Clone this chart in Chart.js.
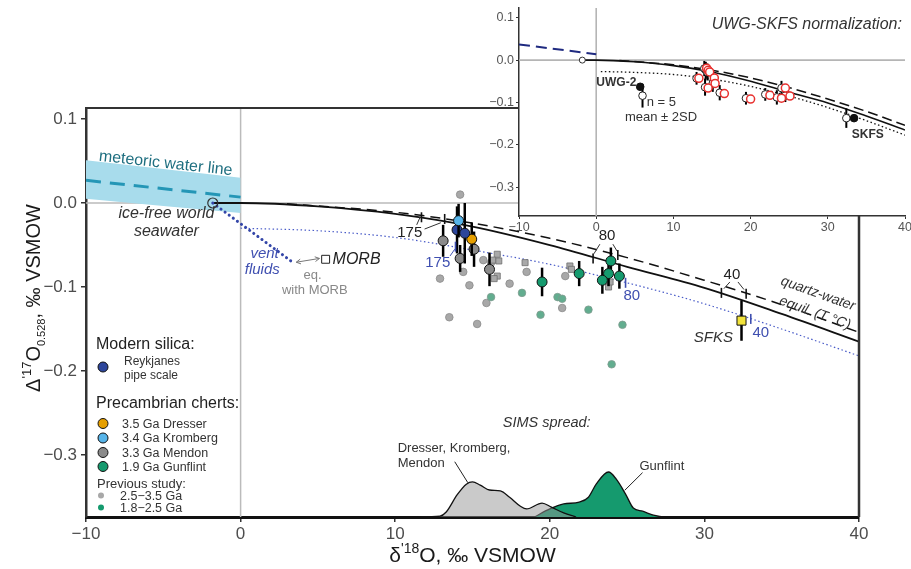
<!DOCTYPE html>
<html>
<head>
<meta charset="utf-8">
<script src="https://cdn.jsdelivr.net/npm/chart.js@4.4.1/dist/chart.umd.min.js"></script>
<style>
  html, body { margin: 0; padding: 0; background: #fff; }
  #wrap { position: relative; width: 911px; height: 569px; }
  #wrap canvas { position: absolute; left: 0; top: 0; }
</style>
</head>
<body>
<div id="wrap">
  <canvas id="main" width="911" height="569"></canvas>
  <canvas id="inset" width="911" height="569"></canvas>
</div>
<script>
const FONT = '"Liberation Sans", Arial, sans-serif';

// ---- main panel: axes ----
const xTicks = [-10, 0, 10, 20, 30, 40];
const yTicks = [0.1, 0, -0.1, -0.2, -0.3];

// meteoric water line and its band
const mwlX = [-10, 0];
const mwlY = [0.027, 0.007];
const mwlHi = [0.051, 0.030];
const mwlLo = [0.005, -0.012];

// ice-free world seawater
const seawaterX = [-1.8];
const seawaterY = [0];

// quartz-water equilibrium curves
const qwSolidX = [-1.8, 0, 5, 10, 15, 20, 25, 30, 35, 40];
const qwSolidY = [0, 0, -0.004, -0.013, -0.028, -0.050, -0.076, -0.101, -0.132, -0.165];
const qwDashX = [3, 10, 15, 20, 25, 30, 35, 40];
const qwDashY = [-0.001, -0.011, -0.024, -0.042, -0.065, -0.092, -0.121, -0.154];

// equilibrium with vent fluids (blue dotted) and vent fluid line
const ventEqX = [0, 5, 10, 15, 20, 25, 30, 35, 40];
const ventEqY = [-0.030, -0.033, -0.041, -0.056, -0.073, -0.095, -0.120, -0.150, -0.182];
const ventX = [-1.8, 3.4];
const ventY = [0, -0.071];
const morbX = [5.5];
const morbY = [-0.067];

// this study
const reykX = [14.0, 14.5];
const reykY = [-0.032, -0.036];
const reykErr = [0.028, 0.036];
const kromX = [14.1];
const kromY = [-0.021];
const kromErr = [0.02];
const dresX = [14.95];
const dresY = [-0.043];
const dresErr = [0.02];
const mendX = [13.1, 15.1, 14.2, 16.1];
const mendY = [-0.045, -0.055, -0.066, -0.079];
const mendErr = [0.019, 0.021, 0.016, 0.02];
const gunX = [19.5, 21.9, 23.95, 23.8, 23.4, 24.5];
const gunY = [-0.094, -0.084, -0.069, -0.084, -0.092, -0.087];
const gunErr = [0.017, 0.015, 0.016, 0.015, 0.016, 0.015];
const sfksX = [32.4];
const sfksY = [-0.140];
const sfksErr = [0.024];

// previous studies
const prevOldX = [14.2, 12.9, 14.4, 14.8, 13.5, 15.3, 15.7, 15.9, 17.4, 18.5, 21.0, 20.8, 16.2];
const prevOldY = [0.010, -0.090, -0.082, -0.098, -0.136, -0.144, -0.068, -0.119, -0.096, -0.082, -0.087, -0.125, -0.071];
const prevYoungX = [16.2, 18.2, 19.4, 20.5, 20.8, 22.5, 24.7, 24.0];
const prevYoungY = [-0.112, -0.107, -0.133, -0.112, -0.114, -0.127, -0.145, -0.192];
const prevSqX = [16.6, 16.7, 16.3, 16.6, 16.4, 18.4, 21.3, 21.4, 23.8, 23.9];
const prevSqY = [-0.061, -0.069, -0.068, -0.087, -0.090, -0.071, -0.075, -0.079, -0.100, -0.094];

// SIMS spread (relative density)
const simsOldX = [11.4, 12.9, 13.3, 14.0, 14.6, 15.0, 15.5, 16.1, 16.8, 17.4, 18.1, 18.5, 19.5, 20.1, 20.9, 21.7];
const simsOldD = [0, 0.02, 0.11, 0.49, 0.73, 0.78, 0.71, 0.60, 0.58, 0.44, 0.24, 0.18, 0.31, 0.22, 0.09, 0];
const simsGunX = [19.0, 20.0, 20.9, 21.9, 22.5, 23.0, 23.8, 24.3, 24.9, 25.4, 26.0, 26.7, 27.3];
const simsGunD = [0, 0.18, 0.29, 0.33, 0.44, 0.73, 1.0, 0.84, 0.51, 0.20, 0.13, 0.04, 0];

// temperature marks along the curves (°C)
const tempLabels = ['175', '80', '40'];
const solidTickX = [11.7, 22.8, 31.1];
const solidTickY = [-0.017, -0.066, -0.107];
const dashTickX = [13.2, 24.4, 32.7];
const dashTickY = [-0.019, -0.062, -0.108];
const blueTickX = [13.9, 24.9, 33.0];
const blueTickY = [-0.052, -0.095, -0.138];

// ---- inset (UWG-SKFS normalization) ----
const inXTicks = [-10, 0, 10, 20, 30, 40];
const inYTicks = [0.1, 0, -0.1, -0.2, -0.3];
const inMwlX = [-10, 0];
const inMwlY = [0.037, 0.014];
const inDotX = [0.6, 5, 10, 15, 20, 25, 30, 35, 40];
const inDotY = [-0.027, -0.029, -0.034, -0.045, -0.062, -0.085, -0.112, -0.143, -0.177];
const inOpenX = [14.0, 14.2, 14.4, 13.0, 15.0, 15.1, 14.1, 16.0, 19.4, 21.9, 23.4, 24.0, 24.5, 6.0, 32.4];
const inOpenY = [-0.020, -0.024, -0.028, -0.043, -0.042, -0.055, -0.064, -0.077, -0.090, -0.081, -0.088, -0.066, -0.084, -0.084, -0.137];
const inOpenErr = [0.018, 0.02, 0.02, 0.015, 0.015, 0.02, 0.02, 0.018, 0.015, 0.015, 0.017, 0.017, 0.015, 0.028, 0.023];
const inRedX = [14.3, 14.5, 14.7, 13.3, 15.3, 15.4, 14.5, 16.6, 20.0, 22.5, 24.0, 24.5, 25.1];
const inRedY = [-0.019, -0.024, -0.028, -0.043, -0.042, -0.055, -0.066, -0.079, -0.092, -0.083, -0.090, -0.066, -0.085];
const inStdX = [5.7, 33.4];
const inStdY = [-0.063, -0.137];

const pts = (xs, ys) => xs.map((x, i) => ({ x: x, y: ys[i] }));
const fmt = (v, d) => (v < 0 ? '\u2212' : '') + Math.abs(v).toFixed(d);

function lineDs(xs, ys, color, width, dash, order, extra) {
    return Object.assign({
        data: pts(xs, ys), borderColor: color, borderWidth: width, borderDash: dash || [],
        pointRadius: 0, fill: false, tension: 0.4, cubicInterpolationMode: 'monotone', order: order
    }, extra || {});
}
function pointDs(xs, ys, fillC, lineC, r, order, extra) {
    return Object.assign({
        data: pts(xs, ys), showLine: false, backgroundColor: fillC, borderColor: lineC,
        pointBackgroundColor: fillC, pointBorderColor: lineC, pointBorderWidth: 1,
        pointRadius: r, order: order
    }, extra || {});
}

// gray zero lines
const zeroLines = {
    id: 'zeroLines',
    beforeDatasetsDraw(chart, args, opts) {
        const { ctx, chartArea: a, scales: { x, y } } = chart;
        ctx.save();
        ctx.strokeStyle = opts.color || '#bbb';
        ctx.lineWidth = opts.width || 1.5;
        ctx.beginPath();
        ctx.moveTo(x.getPixelForValue(0), a.top);
        ctx.lineTo(x.getPixelForValue(0), a.bottom);
        ctx.moveTo(a.left, y.getPixelForValue(0));
        ctx.lineTo(a.right, y.getPixelForValue(0));
        ctx.stroke();
        ctx.restore();
    }
};

// vertical error bars drawn just under their points
const errorBars = {
    id: 'errorBars',
    beforeDatasetDraw(chart, args) {
        const ds = chart.data.datasets[args.index];
        if (!ds.err) return;
        const { ctx } = chart;
        const xs = chart.scales.x, ys = chart.scales.y;
        ctx.save();
        ctx.strokeStyle = '#000';
        ctx.lineWidth = ds.errWidth || 2.5;
        ds.data.forEach((p, i) => {
            const px = xs.getPixelForValue(p.x);
            ctx.beginPath();
            ctx.moveTo(px, ys.getPixelForValue(p.y + ds.err[i]));
            ctx.lineTo(px, ys.getPixelForValue(p.y - ds.err[i]));
            ctx.stroke();
        });
        ctx.restore();
    }
};

function text(ctx, s, px, py, font, color, align, rot) {
    ctx.save();
    ctx.translate(px, py);
    if (rot) ctx.rotate(rot);
    ctx.font = font;
    ctx.fillStyle = color;
    ctx.textAlign = align || 'center';
    ctx.textBaseline = 'middle';
    ctx.fillText(s, 0, 0);
    ctx.restore();
}
function richText(ctx, parts, cx, cy, rot) {
    ctx.save();
    ctx.translate(cx, cy);
    if (rot) ctx.rotate(rot);
    let w = 0;
    parts.forEach(p => { ctx.font = p.size + 'px ' + FONT; p.w = ctx.measureText(p.t).width; w += p.w; });
    let px = -w / 2;
    ctx.fillStyle = '#1a1a1a';
    ctx.textAlign = 'left';
    ctx.textBaseline = 'alphabetic';
    parts.forEach(p => { ctx.font = p.size + 'px ' + FONT; ctx.fillText(p.t, px, p.dy || 0); px += p.w; });
    ctx.restore();
}
function seg(ctx, x1, y1, x2, y2, color, width) {
    ctx.save();
    ctx.strokeStyle = color;
    ctx.lineWidth = width;
    ctx.beginPath();
    ctx.moveTo(x1, y1);
    ctx.lineTo(x2, y2);
    ctx.stroke();
    ctx.restore();
}
function dot(ctx, px, py, r, fillC, lineC) {
    ctx.save();
    ctx.beginPath();
    ctx.arc(px, py, r, 0, Math.PI * 2);
    ctx.fillStyle = fillC;
    ctx.fill();
    if (lineC) { ctx.strokeStyle = lineC; ctx.lineWidth = 1; ctx.stroke(); }
    ctx.restore();
}

const mainNotes = {
    id: 'mainNotes',
    afterDatasetsDraw(chart) {
        const { ctx, chartArea: a, scales: { x, y } } = chart;
        const X = v => x.getPixelForValue(v), Y = v => y.getPixelForValue(v);
        const it = s => 'italic ' + s + 'px ' + FONT;
        const rg = s => s + 'px ' + FONT;

        // meteoric water line label, along the line
        const ang = Math.atan2(Y(mwlY[1]) - Y(mwlY[0]), X(mwlX[1]) - X(mwlX[0]));
        text(ctx, 'meteoric water line', X(-4.85), Y(0.047), rg(16), '#1f6f80', 'center', ang);
        text(ctx, 'ice-free world', X(-4.8), Y(-0.012), it(16), '#333', 'center');
        text(ctx, 'seawater', X(-4.8), Y(-0.034), it(16), '#333', 'center');
        text(ctx, 'vent', X(1.55), Y(-0.060), it(15), '#3f4fb0', 'center');
        text(ctx, 'fluids', X(1.4), Y(-0.080), it(15), '#3f4fb0', 'center');
        text(ctx, 'MORB', X(5.95), Y(-0.067), it(16), '#222', 'left');
        text(ctx, 'eq.', X(4.65), Y(-0.086), rg(13), '#888', 'center');
        text(ctx, 'with MORB', X(4.8), Y(-0.104), rg(13), '#888', 'center');

        // double arrow towards MORB
        const ax1 = X(3.6), ay1 = Y(-0.0705), ax2 = X(5.1), ay2 = Y(-0.066);
        seg(ctx, ax1, ay1, ax2, ay2, '#777', 1);
        const an = Math.atan2(ay2 - ay1, ax2 - ax1);
        [[ax2, ay2, an], [ax1, ay1, an + Math.PI]].forEach(h => {
            seg(ctx, h[0], h[1], h[0] - 5 * Math.cos(h[2] - 0.5), h[1] - 5 * Math.sin(h[2] - 0.5), '#777', 1);
            seg(ctx, h[0], h[1], h[0] - 5 * Math.cos(h[2] + 0.5), h[1] - 5 * Math.sin(h[2] + 0.5), '#777', 1);
        });

        // temperature marks
        for (let i = 0; i < tempLabels.length; i++) {
            seg(ctx, X(solidTickX[i]), Y(solidTickY[i]) - 5, X(solidTickX[i]), Y(solidTickY[i]) + 5, '#111', 1.6);
            seg(ctx, X(dashTickX[i]), Y(dashTickY[i]) - 5, X(dashTickX[i]), Y(dashTickY[i]) + 5, '#111', 1.6);
            seg(ctx, X(blueTickX[i]), Y(blueTickY[i]) - 5, X(blueTickX[i]), Y(blueTickY[i]) + 5, '#3f4fb0', 1.6);
        }
        text(ctx, '175', X(10.94), Y(-0.036), rg(15), '#222', 'center');
        text(ctx, '80', X(23.7), Y(-0.039), rg(15), '#222', 'center');
        text(ctx, '40', X(31.78), Y(-0.085), rg(15), '#222', 'center');
        seg(ctx, X(11.39), Y(-0.026), X(11.62), Y(-0.0165), '#333', 1);
        seg(ctx, X(11.9), Y(-0.031), X(12.95), Y(-0.0235), '#333', 1);
        seg(ctx, X(23.24), Y(-0.049), X(22.85), Y(-0.0605), '#333', 1);
        seg(ctx, X(24.08), Y(-0.049), X(24.34), Y(-0.057), '#333', 1);
        seg(ctx, X(31.65), Y(-0.094), X(31.26), Y(-0.102), '#333', 1);
        seg(ctx, X(32.17), Y(-0.094), X(32.56), Y(-0.103), '#333', 1);
        text(ctx, '175', X(12.75), Y(-0.071), rg(15), '#3f4fb0', 'center');
        text(ctx, '80', X(25.3), Y(-0.110), rg(15), '#3f4fb0', 'center');
        text(ctx, '40', X(33.65), Y(-0.154), rg(15), '#3f4fb0', 'center');
        seg(ctx, X(13.55), Y(-0.063), X(13.85), Y(-0.055), '#3f4fb0', 1);

        // quartz-water label along the solid curve
        const qa = Math.atan2(Y(qwSolidY[9]) - Y(qwSolidY[8]), X(qwSolidX[9]) - X(qwSolidX[8]));
        text(ctx, 'quartz-water', X(37.35), Y(-0.108), it(14), '#333', 'center', qa);
        text(ctx, 'equil. (T \u00B0C)', X(37.15), Y(-0.131), it(14), '#333', 'center', qa);
        text(ctx, 'SFKS', X(31.85), Y(-0.160), it(15), '#333', 'right');

        // SIMS spread
        text(ctx, 'SIMS spread:', X(19.8), Y(-0.262), it(14.5), '#333', 'center');
        text(ctx, 'Dresser, Kromberg,', X(10.16), Y(-0.292), rg(13), '#333', 'left');
        text(ctx, 'Mendon', X(10.16), Y(-0.310), rg(13), '#333', 'left');
        seg(ctx, X(13.85), Y(-0.308), X(14.7), Y(-0.333), '#222', 1);
        text(ctx, 'Gunflint', X(25.8), Y(-0.314), rg(13), '#333', 'left');
        seg(ctx, X(26.0), Y(-0.321), X(24.85), Y(-0.342), '#222', 1);

        // legend
        const lx = a.left;
        text(ctx, 'Modern silica:', lx + 10, 345, rg(16), '#222', 'left');
        dot(ctx, lx + 17, 367, 5, '#2d469b', '#111');
        text(ctx, 'Reykjanes', lx + 38, 362, rg(12), '#333', 'left');
        text(ctx, 'pipe scale', lx + 38, 376, rg(12), '#333', 'left');
        text(ctx, 'Precambrian cherts:', lx + 10, 404, rg(16), '#222', 'left');
        const leg = [['#e69f00', '3.5 Ga Dresser', 423.5], ['#56b4e9', '3.4 Ga Kromberg', 438], ['#8a8a8a', '3.3 Ga Mendon', 452.5], ['#159a6e', '1.9 Ga Gunflint', 466.5]];
        leg.forEach(l => { dot(ctx, lx + 17, l[2], 5, l[0], '#111'); text(ctx, l[1], lx + 36, l[2] + 1, rg(12.5), '#333', 'left'); });
        text(ctx, 'Previous study:', lx + 11, 484, rg(13), '#333', 'left');
        dot(ctx, lx + 15, 495.5, 3, '#a8a8a8');
        text(ctx, '2.5\u22123.5 Ga', lx + 34, 496.5, rg(12.5), '#333', 'left');
        dot(ctx, lx + 15, 507.5, 3, '#159a6e');
        text(ctx, '1.8\u22122.5 Ga', lx + 34, 509, rg(12.5), '#333', 'left');
    },
    afterDraw(chart) {
        const { ctx, chartArea: a } = chart;
        seg(ctx, a.left, a.top, a.right + 1, a.top, '#333', 2);
        seg(ctx, a.right, a.top, a.right, a.bottom, '#333', 2.5);
        richText(ctx, [{ t: '\u03B4', size: 21 }, { t: "'18", size: 14, dy: -9 }, { t: 'O, \u2030 VSMOW', size: 21 }],
            (a.left + a.right) / 2, 562, 0);
        richText(ctx, [{ t: '\u0394', size: 20 }, { t: "'17", size: 13, dy: -9 }, { t: 'O', size: 20 },
            { t: '0.528', size: 11, dy: 5 }, { t: ', \u2030 VSMOW', size: 20 }], 40, 298, -Math.PI / 2);
    }
};

new Chart(document.getElementById('main'), {
    type: 'line',
    data: {
        datasets: [
            lineDs(simsGunX, simsGunD, '#111', 1.3, null, 30, { yAxisID: 'yd', fill: 'origin', backgroundColor: '#159a6e' }),
            lineDs(simsOldX, simsOldD, '#111', 1.3, null, 29, { yAxisID: 'yd', fill: 'origin', backgroundColor: 'rgba(150,150,150,0.5)' }),
            lineDs(mwlX, mwlHi, 'rgba(0,0,0,0)', 0, null, 28, { fill: '+1', backgroundColor: '#a8dcec' }),
            lineDs(mwlX, mwlLo, 'rgba(0,0,0,0)', 0, null, 28),
            lineDs(mwlX, mwlY, '#2496b6', 3, [15, 9], 27),
            lineDs(ventEqX, ventEqY, '#4a5cc8', 1.2, [1.5, 2.5], 26),
            lineDs(qwDashX, qwDashY, '#111', 1.5, [10, 6], 25),
            lineDs(qwSolidX, qwSolidY, '#111', 1.8, null, 25),
            lineDs(ventX, ventY, '#3446a8', 3, [0.1, 5], 24, { borderCapStyle: 'round' }),
            pointDs(morbX, morbY, '#fff', '#222', 5.6, 23, { pointStyle: 'rect' }),
            pointDs(seawaterX, seawaterY, 'rgba(0,0,0,0)', '#333', 5, 22, { pointBorderWidth: 1.2 }),
            pointDs(prevOldX, prevOldY, '#a8a8a8', '#8a8a8a', 3.8, 15, { pointBorderWidth: 0.8 }),
            pointDs(prevYoungX, prevYoungY, '#62ad8f', '#7f9a8e', 3.8, 14, { pointBorderWidth: 0.8 }),
            pointDs(prevSqX, prevSqY, '#a9a9a9', '#6e6e6e', 4.3, 13, { pointStyle: 'rect', pointBorderWidth: 0.8 }),
            pointDs(gunX, gunY, '#159a6e', '#111', 5, 6, { err: gunErr }),
            pointDs(mendX, mendY, '#8a8a8a', '#111', 5, 5, { err: mendErr }),
            pointDs(dresX, dresY, '#e69f00', '#111', 5, 4, { err: dresErr }),
            pointDs(reykX, reykY, '#2d469b', '#111', 5, 3, { err: reykErr }),
            pointDs(kromX, kromY, '#56b4e9', '#111', 5, 2, { err: kromErr }),
            pointDs(sfksX, sfksY, '#f2e33a', '#111', 6.4, 1, { err: sfksErr, pointStyle: 'rect' })
        ]
    },
    options: {
        responsive: false,
        animation: false,
        events: [],
        layout: { padding: { left: 0, top: 108, right: 52, bottom: 0 } },
        plugins: { legend: { display: false }, tooltip: { enabled: false } },
        scales: {
            x: {
                type: 'linear', min: -10, max: 40,
                afterBuildTicks: s => { s.ticks = xTicks.map(v => ({ value: v })); },
                afterFit: s => { s.height = 52; s.paddingLeft = 0; s.paddingRight = 0; },
                border: { color: '#111', width: 3 },
                grid: { drawOnChartArea: false, color: '#333', lineWidth: 1.5, tickLength: 5 },
                ticks: { font: { family: FONT, size: 17 }, color: '#4d4d4d', padding: 2, maxRotation: 0, callback: v => fmt(v, 0) }
            },
            y: {
                type: 'linear', min: -0.3738, max: 0.1131,
                afterBuildTicks: s => { s.ticks = yTicks.map(v => ({ value: v })); },
                afterFit: s => { s.width = 86; s.paddingTop = 0; s.paddingBottom = 0; },
                border: { color: '#333', width: 2.5 },
                grid: { drawOnChartArea: false, color: '#333', lineWidth: 1.5, tickLength: 5 },
                ticks: { font: { family: FONT, size: 17 }, color: '#4d4d4d', padding: 4, callback: v => fmt(v, 1) }
            },
            yd: { type: 'linear', display: false, min: 0, max: 9.09 }
        }
    },
    plugins: [zeroLines, errorBars, mainNotes]
});

// inset panel
const insetBg = {
    id: 'insetBg',
    beforeDraw(chart) {
        const { ctx, chartArea: a } = chart;
        ctx.save();
        ctx.fillStyle = '#fff';
        ctx.fillRect(a.left, a.top, a.right - a.left, a.bottom - a.top);
        ctx.restore();
    }
};
const insetNotes = {
    id: 'insetNotes',
    afterDatasetsDraw(chart) {
        const { ctx, scales: { x, y } } = chart;
        const X = v => x.getPixelForValue(v), Y = v => y.getPixelForValue(v);
        text(ctx, 'UWG-SKFS normalization:', X(39.6), Y(0.083), 'italic 16px ' + FONT, '#333', 'right');
        text(ctx, 'UWG-2', X(5.2), Y(-0.054), 'bold 12px ' + FONT, '#333', 'right');
        text(ctx, 'n = 5', X(6.55), Y(-0.099), '13px ' + FONT, '#333', 'left');
        text(ctx, 'mean \u00B1 2SD', X(8.4), Y(-0.135), '13px ' + FONT, '#333', 'center');
        text(ctx, 'SKFS', X(33.1), Y(-0.175), 'bold 12px ' + FONT, '#333', 'left');
    }
};

new Chart(document.getElementById('inset'), {
    type: 'line',
    data: {
        datasets: [
            lineDs(inMwlX, inMwlY, '#1f2a80', 2, [11, 6], 20),
            lineDs(inDotX, inDotY, '#111', 1.3, [1.5, 2.5], 19),
            lineDs(qwDashX, qwDashY, '#111', 1.5, [10, 5], 18),
            lineDs(qwSolidX, qwSolidY, '#111', 1.6, null, 18),
            pointDs(seawaterX, seawaterY, '#fff', '#333', 3, 15),
            pointDs(inOpenX, inOpenY, '#fff', '#222', 3.8, 5, { err: inOpenErr, errWidth: 2 }),
            pointDs(inRedX, inRedY, '#fff', '#e8302e', 4, 4, { pointBorderWidth: 1.5 }),
            pointDs(inStdX, inStdY, '#111', '#111', 3.8, 3)
        ]
    },
    options: {
        responsive: false,
        animation: false,
        events: [],
        layout: { padding: { left: 489, top: 8, right: 6, bottom: 333 } },
        plugins: { legend: { display: false }, tooltip: { enabled: false }, zeroLines: { color: '#b5b5b5', width: 1.6 } },
        scales: {
            x: {
                type: 'linear', min: -10, max: 40,
                afterBuildTicks: s => { s.ticks = inXTicks.map(v => ({ value: v })); },
                afterFit: s => { s.height = 20; s.paddingLeft = 0; s.paddingRight = 0; },
                border: { color: '#333', width: 1.5 },
                grid: { drawOnChartArea: false, color: '#333', lineWidth: 1, tickLength: 3 },
                ticks: { font: { family: FONT, size: 12.5 }, color: '#555', padding: 1, maxRotation: 0, callback: v => fmt(v, 0) }
            },
            y: {
                type: 'linear', min: -0.368, max: 0.123,
                afterBuildTicks: s => { s.ticks = inYTicks.map(v => ({ value: v })); },
                afterFit: s => { s.width = 30; s.paddingTop = 0; s.paddingBottom = 0; },
                border: { color: '#333', width: 1.5 },
                grid: { drawOnChartArea: false, color: '#333', lineWidth: 1, tickLength: 3 },
                ticks: { font: { family: FONT, size: 12.5 }, color: '#555', padding: 2, callback: v => fmt(v, 1) }
            }
        }
    },
    plugins: [insetBg, zeroLines, errorBars, insetNotes]
});
</script>
</body>
</html>
